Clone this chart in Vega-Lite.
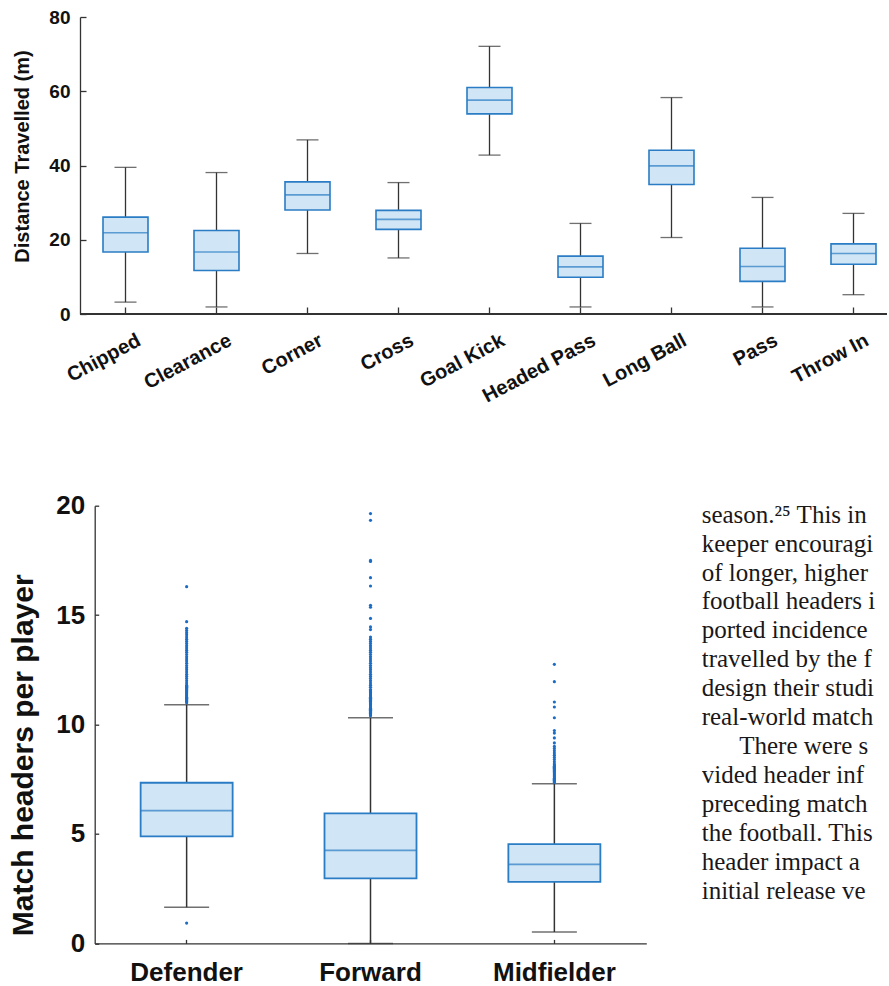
{
  "$schema": "https://vega.github.io/schema/vega-lite/v6.json",
  "background": "white",
  "padding": {"left": 8, "top": 8, "right": 0, "bottom": 0},
  "config": {
    "view": {"stroke": null},
    "font": "Liberation Sans",
    "axis": {"grid": false, "domainColor": "#333333", "tickColor": "#333333", "domainWidth": 1.3, "tickWidth": 1.3, "labelColor": "#111111", "titleColor": "#111111", "labelFont": "Liberation Sans", "titleFont": "Liberation Sans", "labelFontWeight": "bold", "titleFontWeight": "bold"}
  },
  "datasets": {
    "top": [
      {"type": "Chipped", "lo": 3.2, "q1": 16.7, "med": 21.9, "q3": 26.1, "hi": 39.5},
      {"type": "Clearance", "lo": 1.9, "q1": 11.7, "med": 16.7, "q3": 22.5, "hi": 38.1},
      {"type": "Corner", "lo": 16.3, "q1": 28.0, "med": 32.1, "q3": 35.6, "hi": 46.9},
      {"type": "Cross", "lo": 15.1, "q1": 22.8, "med": 25.5, "q3": 27.9, "hi": 35.4},
      {"type": "Goal Kick", "lo": 42.8, "q1": 53.9, "med": 57.6, "q3": 61.0, "hi": 72.1},
      {"type": "Headed Pass", "lo": 1.9, "q1": 9.9, "med": 12.7, "q3": 15.6, "hi": 24.4},
      {"type": "Long Ball", "lo": 20.6, "q1": 34.9, "med": 39.9, "q3": 44.1, "hi": 58.3},
      {"type": "Pass", "lo": 1.9, "q1": 8.8, "med": 12.8, "q3": 17.7, "hi": 31.4},
      {"type": "Throw In", "lo": 5.2, "q1": 13.4, "med": 16.3, "q3": 18.9, "hi": 27.1}
    ],
    "bottom": [
      {"pos": "Defender", "lo": 1.65, "q1": 4.89, "med": 6.07, "q3": 7.34, "hi": 10.91},
      {"pos": "Forward", "lo": 0, "q1": 2.97, "med": 4.25, "q3": 5.94, "hi": 10.31},
      {"pos": "Midfielder", "lo": 0.52, "q1": 2.81, "med": 3.61, "q3": 4.54, "hi": 7.29}
    ],
    "outliers": [
      {"pos": "Defender", "v": 0.93},
      {"pos": "Defender", "v": 11.0}, {"pos": "Defender", "v": 11.05}, {"pos": "Defender", "v": 11.1}, {"pos": "Defender", "v": 11.15}, {"pos": "Defender", "v": 11.2}, {"pos": "Defender", "v": 11.25}, {"pos": "Defender", "v": 11.3}, {"pos": "Defender", "v": 11.35}, {"pos": "Defender", "v": 11.4}, {"pos": "Defender", "v": 11.45}, {"pos": "Defender", "v": 11.5}, {"pos": "Defender", "v": 11.55}, {"pos": "Defender", "v": 11.6}, {"pos": "Defender", "v": 11.65}, {"pos": "Defender", "v": 11.7}, {"pos": "Defender", "v": 11.75}, {"pos": "Defender", "v": 11.8}, {"pos": "Defender", "v": 11.9}, {"pos": "Defender", "v": 12.0},
      {"pos": "Defender", "v": 12.1}, {"pos": "Defender", "v": 12.2}, {"pos": "Defender", "v": 12.3}, {"pos": "Defender", "v": 12.4}, {"pos": "Defender", "v": 12.5}, {"pos": "Defender", "v": 12.6}, {"pos": "Defender", "v": 12.7}, {"pos": "Defender", "v": 12.8}, {"pos": "Defender", "v": 12.9}, {"pos": "Defender", "v": 13.0}, {"pos": "Defender", "v": 13.1}, {"pos": "Defender", "v": 13.2}, {"pos": "Defender", "v": 13.3}, {"pos": "Defender", "v": 13.4}, {"pos": "Defender", "v": 13.5}, {"pos": "Defender", "v": 13.6}, {"pos": "Defender", "v": 13.7}, {"pos": "Defender", "v": 13.8}, {"pos": "Defender", "v": 13.9}, {"pos": "Defender", "v": 14.0}, {"pos": "Defender", "v": 14.1}, {"pos": "Defender", "v": 14.2}, {"pos": "Defender", "v": 14.3}, {"pos": "Defender", "v": 14.4}, {"pos": "Defender", "v": 14.7}, {"pos": "Defender", "v": 16.3},
      {"pos": "Forward", "v": 10.4}, {"pos": "Forward", "v": 10.45}, {"pos": "Forward", "v": 10.5}, {"pos": "Forward", "v": 10.55}, {"pos": "Forward", "v": 10.6}, {"pos": "Forward", "v": 10.65}, {"pos": "Forward", "v": 10.7}, {"pos": "Forward", "v": 10.75}, {"pos": "Forward", "v": 10.8}, {"pos": "Forward", "v": 10.85}, {"pos": "Forward", "v": 10.9}, {"pos": "Forward", "v": 10.95}, {"pos": "Forward", "v": 11.0}, {"pos": "Forward", "v": 11.05}, {"pos": "Forward", "v": 11.1}, {"pos": "Forward", "v": 11.15}, {"pos": "Forward", "v": 11.2}, {"pos": "Forward", "v": 11.25}, {"pos": "Forward", "v": 11.3}, {"pos": "Forward", "v": 11.35}, {"pos": "Forward", "v": 11.4}, {"pos": "Forward", "v": 11.45}, {"pos": "Forward", "v": 11.5}, {"pos": "Forward", "v": 11.55}, {"pos": "Forward", "v": 11.6}, {"pos": "Forward", "v": 11.7}, {"pos": "Forward", "v": 11.8}, {"pos": "Forward", "v": 11.9}, {"pos": "Forward", "v": 12.0},
      {"pos": "Forward", "v": 12.1}, {"pos": "Forward", "v": 12.2}, {"pos": "Forward", "v": 12.3}, {"pos": "Forward", "v": 12.4}, {"pos": "Forward", "v": 12.5}, {"pos": "Forward", "v": 12.6}, {"pos": "Forward", "v": 12.7}, {"pos": "Forward", "v": 12.8}, {"pos": "Forward", "v": 12.9}, {"pos": "Forward", "v": 13.0}, {"pos": "Forward", "v": 13.1}, {"pos": "Forward", "v": 13.2}, {"pos": "Forward", "v": 13.3}, {"pos": "Forward", "v": 13.4}, {"pos": "Forward", "v": 13.5}, {"pos": "Forward", "v": 13.6}, {"pos": "Forward", "v": 13.7}, {"pos": "Forward", "v": 13.8}, {"pos": "Forward", "v": 13.9}, {"pos": "Forward", "v": 14.0}, {"pos": "Forward", "v": 14.34}, {"pos": "Forward", "v": 14.46}, {"pos": "Forward", "v": 14.85}, {"pos": "Forward", "v": 15.36}, {"pos": "Forward", "v": 15.45}, {"pos": "Forward", "v": 16.33}, {"pos": "Forward", "v": 16.71}, {"pos": "Forward", "v": 17.45}, {"pos": "Forward", "v": 17.5}, {"pos": "Forward", "v": 19.33}, {"pos": "Forward", "v": 19.64},
      {"pos": "Midfielder", "v": 7.35}, {"pos": "Midfielder", "v": 7.4}, {"pos": "Midfielder", "v": 7.45}, {"pos": "Midfielder", "v": 7.5}, {"pos": "Midfielder", "v": 7.55}, {"pos": "Midfielder", "v": 7.6}, {"pos": "Midfielder", "v": 7.65}, {"pos": "Midfielder", "v": 7.7}, {"pos": "Midfielder", "v": 7.75}, {"pos": "Midfielder", "v": 7.8}, {"pos": "Midfielder", "v": 7.85}, {"pos": "Midfielder", "v": 7.9}, {"pos": "Midfielder", "v": 7.95}, {"pos": "Midfielder", "v": 8.0}, {"pos": "Midfielder", "v": 8.05}, {"pos": "Midfielder", "v": 8.1}, {"pos": "Midfielder", "v": 8.15}, {"pos": "Midfielder", "v": 8.2}, {"pos": "Midfielder", "v": 8.3}, {"pos": "Midfielder", "v": 8.4}, {"pos": "Midfielder", "v": 8.5}, {"pos": "Midfielder", "v": 8.6}, {"pos": "Midfielder", "v": 8.7}, {"pos": "Midfielder", "v": 8.8}, {"pos": "Midfielder", "v": 8.9}, {"pos": "Midfielder", "v": 9.0}, {"pos": "Midfielder", "v": 9.16}, {"pos": "Midfielder", "v": 9.39}, {"pos": "Midfielder", "v": 9.61}, {"pos": "Midfielder", "v": 9.73}, {"pos": "Midfielder", "v": 10.31}, {"pos": "Midfielder", "v": 10.8}, {"pos": "Midfielder", "v": 11.03}, {"pos": "Midfielder", "v": 11.96}, {"pos": "Midfielder", "v": 12.75}
    ],
    "page": [
      {"line": 0, "text": "season.²⁵ This in"},
      {"line": 1, "text": "keeper encouragi"},
      {"line": 2, "text": "of  longer,  higher"},
      {"line": 3, "text": "football headers i"},
      {"line": 4, "text": "ported incidence"},
      {"line": 5, "text": "travelled by the f"},
      {"line": 6, "text": "design their studi"},
      {"line": 7, "text": "real-world match"},
      {"line": 8, "text": "\u200b\u2003\u00a0\u00a0There were s"},
      {"line": 9, "text": "vided header inf"},
      {"line": 10, "text": "preceding match"},
      {"line": 11, "text": "the football. This"},
      {"line": 12, "text": "header impact a"},
      {"line": 13, "text": "initial release ve"}
    ]
  },
  "vconcat": [
    {
      "width": 807,
      "height": 297,
      "data": {"name": "top"},
      "layer": [
        {
          "mark": {"type": "rule", "color": "#333333", "strokeWidth": 1.3},
          "encoding": {"y": {"datum": 0, "type": "quantitative"}}
        },
        {
          "mark": {"type": "rule", "color": "#333333", "strokeWidth": 1.3},
          "encoding": {
            "x": {"field": "type", "type": "nominal", "sort": null,
              "scale": {"range": [0, 819], "paddingInner": 0, "paddingOuter": 0},
              "axis": {"title": null, "domain": false, "tickSize": -7, "labelAngle": -28, "labelAlign": "right", "labelBaseline": "top", "labelFontSize": 20, "labelPadding": 23, "labelOffset": 9}},
            "y": {"field": "lo", "type": "quantitative", "scale": {"domain": [0, 80], "nice": false},
              "axis": {"values": [0, 20, 40, 60, 80], "title": "Distance Travelled (m)", "titleFontSize": 20, "titlePadding": 16, "titleY": 139, "labelFontSize": 19, "tickSize": -6, "labelPadding": 16}},
            "y2": {"field": "hi"}
          }
        },
        {
          "mark": {"type": "tick", "color": "#333333", "thickness": 1.3, "size": 22},
          "encoding": {"x": {"field": "type", "type": "nominal", "sort": null}, "y": {"field": "lo", "type": "quantitative"}}
        },
        {
          "mark": {"type": "tick", "color": "#333333", "thickness": 1.3, "size": 22},
          "encoding": {"x": {"field": "type", "type": "nominal", "sort": null}, "y": {"field": "hi", "type": "quantitative"}}
        },
        {
          "mark": {"type": "bar", "size": 45, "fill": "#d0e5f5", "stroke": "#2a7cc4", "strokeWidth": 1.6},
          "encoding": {"x": {"field": "type", "type": "nominal", "sort": null}, "y": {"field": "q1", "type": "quantitative"}, "y2": {"field": "q3"}}
        },
        {
          "mark": {"type": "tick", "color": "#2a7cc4", "thickness": 1.6, "size": 45},
          "encoding": {"x": {"field": "type", "type": "nominal", "sort": null}, "y": {"field": "med", "type": "quantitative"}}
        }
      ]
    },
    {
      "hconcat": [
        {
          "width": 566.3,
          "height": 437.7,
          "layer": [
            {
              "data": {"name": "bottom"},
              "mark": {"type": "rule", "color": "#333333", "strokeWidth": 1.5},
              "encoding": {
                "x": {"field": "pos", "type": "nominal", "sort": null,
                  "scale": {"range": [14.7, 566.3], "paddingInner": 0, "paddingOuter": 0},
                  "axis": {"title": null, "tickSize": -4, "labelAngle": 0, "labelFontSize": 26, "labelPadding": 20}},
                "y": {"field": "lo", "type": "quantitative", "scale": {"domain": [0, 20], "nice": false},
                  "axis": {"values": [0, 5, 10, 15, 20], "offset": -14.7, "title": "Match headers per player", "titleFontSize": 30, "titleAnchor": "start", "titleY": 430, "titlePadding": 17, "labelFontSize": 26, "tickSize": -4, "labelPadding": 14}},
                "y2": {"field": "hi"}
              }
            },
            {
              "data": {"name": "bottom"},
              "mark": {"type": "tick", "color": "#333333", "thickness": 1.5, "size": 45},
              "encoding": {"x": {"field": "pos", "type": "nominal", "sort": null}, "y": {"field": "lo", "type": "quantitative"}}
            },
            {
              "data": {"name": "bottom"},
              "mark": {"type": "tick", "color": "#333333", "thickness": 1.5, "size": 45},
              "encoding": {"x": {"field": "pos", "type": "nominal", "sort": null}, "y": {"field": "hi", "type": "quantitative"}}
            },
            {
              "data": {"name": "bottom"},
              "mark": {"type": "bar", "size": 92, "fill": "#d0e5f5", "stroke": "#2a7cc4", "strokeWidth": 1.8},
              "encoding": {"x": {"field": "pos", "type": "nominal", "sort": null}, "y": {"field": "q1", "type": "quantitative"}, "y2": {"field": "q3"}}
            },
            {
              "data": {"name": "bottom"},
              "mark": {"type": "tick", "color": "#2a7cc4", "thickness": 1.8, "size": 92},
              "encoding": {"x": {"field": "pos", "type": "nominal", "sort": null}, "y": {"field": "med", "type": "quantitative"}}
            },
            {
              "data": {"name": "outliers"},
              "mark": {"type": "circle", "color": "#1a6cc4", "size": 10, "opacity": 1},
              "encoding": {"x": {"field": "pos", "type": "nominal", "sort": null}, "y": {"field": "v", "type": "quantitative"}}
            }
          ]
        },
        {
          "width": 186,
          "height": 437.7,
          "data": {"name": "page"},
          "mark": {"type": "text", "clip": true, "align": "left", "baseline": "alphabetic", "font": "Liberation Serif", "fontSize": 25, "color": "#1a1718"},
          "encoding": {
            "x": {"value": 0},
            "y": {"field": "line", "type": "quantitative", "scale": {"domain": [-0.588, 14.547], "nice": false, "zero": false, "reverse": true}, "axis": null},
            "text": {"field": "text"}
          }
        }
      ],
      "spacing": 54.7,
      "bounds": "flush"
    }
  ],
  "spacing": 191.7,
  "bounds": "flush"
}
